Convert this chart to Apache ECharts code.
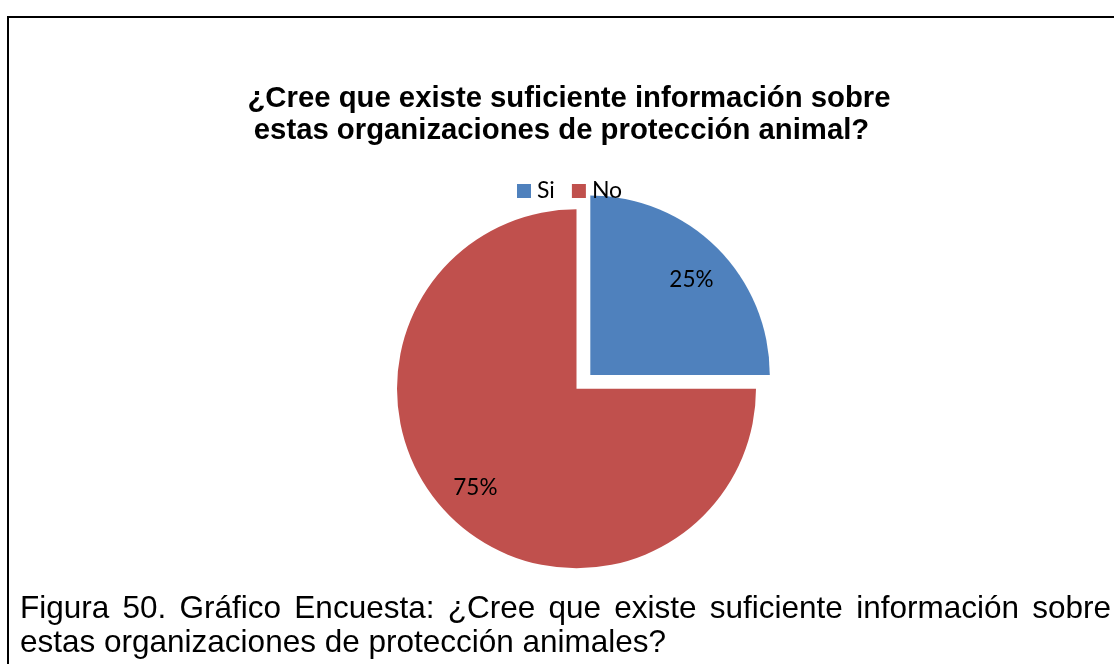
<!DOCTYPE html>
<html>
<head>
<meta charset="utf-8">
<title>¿Cree que existe suficiente información sobre estas organizaciones de protección animal?</title>
<script src="https://cdn.jsdelivr.net/npm/echarts@6/dist/echarts.min.js"></script>
<style>
  html, body { margin: 0; padding: 0; background: #ffffff; }
  #chart { width: 1114px; height: 664px; }
</style>
</head>
<body>
<div id="chart"></div>
<script>
// Survey answers
const categories = ['Si', 'No'];
const values = [25, 75];
const sliceColors = ['#4F81BD', '#C0504D'];

// Chart title (two lines) and figure caption
const titleLines = [
  '¿Cree que existe suficiente información sobre',
  'estas organizaciones de protección animal?'
];
const captionLines = [
  'Figura 50. Gráfico Encuesta: ¿Cree que existe suficiente información sobre',
  'estas organizaciones de protección animales?'
];

const chart = echarts.init(document.getElementById('chart'), null, { renderer: 'canvas' });

const pieCenter = [576.5, 388.8];
const pieRadius = 179.5;
const labelFont = 'Lato';
const captionFont = '"Liberation Sans", Arial, sans-serif';
const captionSize = 31.5;
// small per-slice fine tuning of the percentage labels (px)
const labelNudge = { Si: [0, 5.5], No: [0, -2.5] };

// Push each percentage label outward along its slice bisector
// (ECharts puts "inside" labels at half radius).
const total = values.reduce((a, b) => a + b, 0);
let cum = 0;
const pieData = categories.map((name, i) => {
  const mid = (90 - 360 * (cum + values[i] / 2) / total) * Math.PI / 180;
  cum += values[i];
  const extra = (0.78 - 0.5) * pieRadius;
  const nudge = labelNudge[name] || [0, 0];
  const offset = [extra * Math.cos(mid) + nudge[0], -extra * Math.sin(mid) + nudge[1]];
  return {
    name: name,
    value: values[i],
    selected: i === 0,
    itemStyle: { color: sliceColors[i] },
    label: { offset: offset },
    select: { label: { offset: offset } }
  };
});

// Justify the first caption line across the page width
function justifiedWords(text, font, x0, x1) {
  const ctx = document.createElement('canvas').getContext('2d');
  ctx.font = font;
  const words = text.split(' ');
  const widths = words.map(w => ctx.measureText(w).width);
  const sum = widths.reduce((a, b) => a + b, 0);
  const gap = (x1 - x0 - sum) / (words.length - 1);
  let x = x0;
  return words.map((w, i) => {
    const el = { word: w, x: x };
    x += widths[i] + gap;
    return el;
  });
}

const captionFontCss = captionSize + 'px ' + captionFont;
const line1Words = justifiedWords(captionLines[0], captionFontCss, 20, 1111);

const captionGraphics = line1Words.map(w => ({
  type: 'text',
  x: w.x,
  y: 609.5,
  silent: true,
  style: {
    text: w.word,
    fill: '#000000',
    font: captionFontCss,
    align: 'left',
    verticalAlign: 'middle'
  }
}));
captionGraphics.push({
  type: 'text',
  x: 20,
  y: 643.5,
  silent: true,
  style: {
    text: captionLines[1],
    fill: '#000000',
    font: captionFontCss,
    align: 'left',
    verticalAlign: 'middle'
  }
});

const titleStyle = {
  fontFamily: '"Liberation Sans", Arial, sans-serif',
  fontWeight: 'bold',
  fontSize: 29.3,
  lineHeight: 32,
  color: '#000000'
};

const option = {
  animation: false,
  backgroundColor: '#ffffff',
  title: [
    { text: titleLines[0], left: 569, top: 82.5, padding: 0, textAlign: 'center', textStyle: titleStyle },
    { text: titleLines[1], left: 561.5, top: 115, padding: 0, textAlign: 'center', textStyle: titleStyle }
  ],
  legend: {
    data: categories,
    left: 517,
    top: 179,
    padding: 0,
    icon: 'rect',
    itemWidth: 14,
    itemHeight: 14,
    itemGap: 17,
    selectedMode: false,
    textStyle: {
      fontFamily: labelFont,
      fontSize: 23,
      lineHeight: 24,
      color: '#000000',
      padding: [0, 0, 0, 1]
    }
  },
  graphic: [
    {
      type: 'rect',
      silent: true,
      z: 100,
      shape: { x: 8, y: 17, width: 1300, height: 900 },
      style: { fill: 'none', stroke: '#000000', lineWidth: 2 }
    }
  ].concat(captionGraphics),
  series: [
    {
      type: 'pie',
      center: pieCenter,
      radius: pieRadius,
      startAngle: 90,
      clockwise: true,
      selectedMode: 'single',
      selectedOffset: 19.5,
      avoidLabelOverlap: false,
      itemStyle: { borderWidth: 0 },
      emphasis: { disabled: true },
      label: {
        show: true,
        position: 'inside',
        formatter: '{d}%',
        fontFamily: labelFont,
        fontSize: 22.5,
        color: '#000000'
      },
      labelLine: { show: false },
      data: pieData
    }
  ]
};

chart.setOption(option);
</script>
</body>
</html>
